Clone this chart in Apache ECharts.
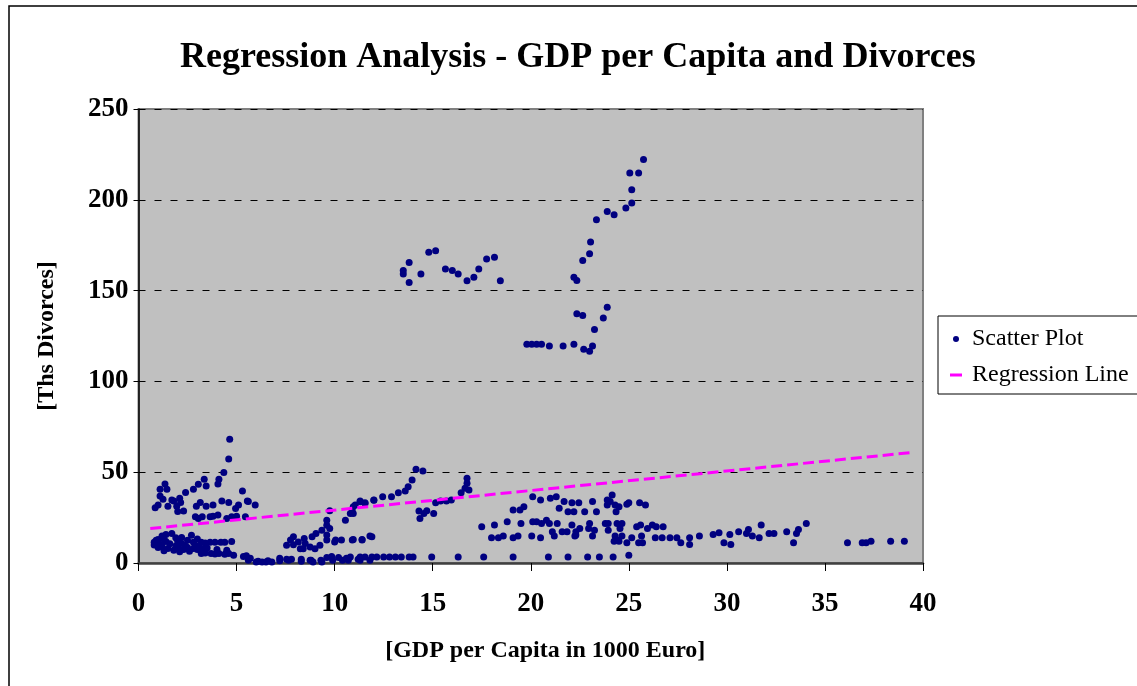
<!DOCTYPE html>
<html>
<head>
<meta charset="utf-8">
<script src="https://cdn.jsdelivr.net/npm/echarts@6/dist/echarts.min.js"></script>
<style>
html,body{margin:0;padding:0;background:#fff;}
#c{width:1137px;height:686px;}
</style>
</head>
<body>
<div id="c"></div>
<script>
// ---- Data (GDP per capita in 1000 EUR, divorces in thousands) ----
const xTicks = [0, 5, 10, 15, 20, 25, 30, 35, 40];
const yTicks = [0, 50, 100, 150, 200, 250];

const lowLeft = [
  [0.8,11.4],[0.8,9.9],[1.0,8.6],[1.3,6.8],[1.2,14.8],[1.4,15.7],[1.7,16.2],[1.9,13.9],[2.0,12.0],[2.2,10.8],
  [2.4,9.3],[2.3,7.5],[2.5,8.5],[2.7,15.3],[3.0,7.5],[1.6,10.6],[1.9,9.3],[1.3,13.0],[1.0,13.0],
  [2.8,11.4],[3.2,11.4],[3.4,11.0],[3.65,11.4],[3.9,11.4],[4.2,11.4],[4.4,11.4],[4.75,11.8],
  [3.2,5.2],[3.4,5.5],[3.7,5.2],[3.9,5.0],[4.1,5.2],[4.4,4.8],[4.6,5.2],[4.85,4.2],
  [1.1,10.2],[1.5,8.0],[1.8,7.0],[2.1,6.2],[2.6,6.5],[2.9,9.8],[3.1,9.0],[3.3,7.8],[2.2,14.0],[2.5,12.5],
  [3.0,13.2],[3.5,8.2],[1.4,11.8],[0.9,12.5],[1.2,9.3],[2.8,8.0],[2.0,8.6],[4.0,7.5],[4.5,7.0]
];
const nearZero = [
  [5.35,3.6],[5.5,4.0],[5.7,2.6],[6.0,0.6],[6.3,0.6],[6.5,0.6],[6.8,0.6],[7.2,2.6],[7.55,2.0],[7.8,2.0],
  [8.3,2.0],[8.75,1.5],[8.9,0.6],[9.35,0.6],[9.6,3.0],[9.85,3.6],[10.2,3.0],[10.6,2.6],[11.2,2.0],
  [5.6,1.5],[6.1,1.0],[6.6,1.2],[7.2,1.2],[7.65,1.5],[8.3,1.0],[8.8,1.5],[9.3,1.5],[9.9,1.5],[10.4,1.5],
  [10.7,1.5],[11.3,1.5],[11.8,1.5],
  [10.8,3.3],[11.3,3.3],[11.55,3.3],[11.9,3.3],[12.15,3.3],[12.5,3.3],[12.8,3.3],[13.1,3.3],[13.4,3.3],
  [13.8,3.3],[14.0,3.3],[14.95,3.3],[16.3,3.3],[17.6,3.3],[19.1,3.3],[20.9,3.3],[21.9,3.3],
  [22.9,3.3],[23.5,3.3],[24.2,3.3],[25.0,4.2]
];
const risingBand = [
  [7.55,9.8],[7.75,12.6],[7.9,14.4],[8.15,11.6],[8.25,7.9],[8.4,7.9],[8.45,13.5],[8.5,10.7],[8.75,8.8],
  [8.85,14.4],[9.05,16.3],[9.0,7.9],[9.25,9.8],[9.35,18.1],[9.6,15.4],[9.6,23.6],[9.75,19.0],[9.6,20.8],
  [9.75,28.8],[9.6,12.6],[10.05,12.6],[10.35,12.6],[10.9,12.6],[11.4,12.6],[11.9,14.4],[10.55,23.6],
  [10.8,27.3],[10.95,31.0],[11.3,33.7],[11.55,32.8],[12.0,34.6],[11.05,31.9],[10.9,28.2],[7.9,10.1],[10.0,11.5]
];
const midBand = [
  [10.95,27.3],[11.3,34.2],[11.55,33.2],[12.0,34.7],[12.45,36.5],[12.9,36.5],[13.25,38.7],[13.6,39.7],
  [13.75,42.0],[13.95,45.7],[14.15,51.6],[14.5,50.7],[14.3,28.6],[14.35,24.5],[14.55,27.3],[14.7,28.8],
  [15.05,27.3],[15.15,33.2],[15.4,34.2],[15.7,34.2],[15.95,34.7],[16.45,38.7],[16.65,41.1],[16.75,43.9],
  [16.75,46.7],[16.85,40.2],[10.95,13.0],[11.4,13.0],[11.8,14.8]
];
const rightBand = [
  [17.5,19.9],[18.15,20.9],[18.8,22.7],[19.1,29.2],[19.45,29.2],[19.65,31.0],[19.5,21.8],[18.0,13.9],
  [18.35,13.9],[18.6,14.8],[19.1,13.9],[19.35,14.8],[20.05,14.8],[20.5,13.9],[20.1,36.5],[20.5,34.7],
  [21.0,35.6],[21.3,36.5],[21.7,33.8],[21.45,30.1],[21.9,28.2],[22.1,33.2],[20.1,22.7],[20.3,22.7],
  [20.8,23.6],[20.55,21.8],[20.95,21.8],[21.35,21.8],[21.1,17.2],[21.2,14.8],[21.6,17.2],[21.85,17.2],
  [22.1,20.9],[22.25,14.8],[22.3,17.2],
  [22.45,33.2],[22.2,28.2],[22.75,28.2],[23.15,33.8],[23.35,28.2],[23.9,34.7],[24.15,37.4],[24.05,33.8],
  [23.9,32.0],[24.3,32.0],[24.5,31.0],[24.35,28.2],[24.9,32.3],[25.0,33.2],[25.55,33.2],[25.85,32.0],
  [22.3,15.4],[22.5,19.0],[23.0,21.8],[22.95,19.0],[23.15,14.8],[23.25,18.1],[23.8,21.8],[23.95,21.8],
  [23.95,18.1],[24.4,21.8],[24.65,21.8],[24.55,19.0],[24.3,14.8],[24.4,12.6],[24.65,14.8],[24.25,12.0],
  [24.5,12.0],[24.9,11.1],[25.15,13.9],[25.4,20.0],[25.6,20.9],[25.65,14.8],[25.5,11.1],[25.7,11.1],
  [25.95,19.0],[26.2,20.9],[26.4,19.9],[26.75,19.9],[26.35,13.9],[26.7,13.9],[27.1,13.9],[27.45,13.9],
  [27.65,11.1],[28.1,13.9],[28.1,10.2],[28.6,14.8],[29.3,15.7],[29.6,16.7],[29.85,11.1],[30.15,15.7],
  [30.2,10.2],[30.6,17.2],[31.0,16.3],[31.1,18.5],[31.3,14.8],[31.65,13.9],[31.75,20.9],[32.15,16.3],
  [32.4,16.3],[33.05,17.2],[33.4,11.1],[33.55,16.3],[33.65,18.5],[34.05,21.8],[36.15,11.1],[36.9,11.1],
  [37.1,11.1],[37.35,12.0],[38.35,12.0],[39.05,12.0]
];
const upperLeft = [
  [4.65,68.2],[4.6,57.2],[4.35,49.8],[4.1,46.1],[4.05,43.5],[3.35,46.1],[3.45,42.4],[3.05,43.3],[2.8,40.6],
  [2.4,38.8],[1.35,43.5],[1.45,40.6],[1.1,40.6],[1.1,36.9],[1.25,35.1],[0.85,30.4],[1.0,31.9],[1.5,31.3],
  [1.8,34.1],[2.1,35.6],[2.15,33.3],[2.0,28.3],[2.3,28.7],[1.95,31.3],[1.7,34.7],[4.25,34.1],[4.6,33.3],
  [5.3,39.7],[5.55,34.1],[5.95,31.9],[5.1,31.9],[4.95,30.0],[3.15,33.3],[3.45,31.3],[3.8,31.9],[2.95,31.3],
  [2.9,25.4],[3.05,24.5],[3.25,25.4],[3.65,25.4],[3.8,25.8],[4.05,26.4],[4.5,24.5],[4.75,25.4],[5.0,25.8],
  [5.45,25.4],[5.6,33.8]
];
const highGroupA = [
  [13.5,161.0],[13.5,159.1],[13.8,165.5],[13.8,154.5],[14.4,159.1],[14.8,171.1],[15.15,172.0],[15.65,161.9],
  [16.0,161.0],[16.3,159.1],[16.75,155.4],[17.1,157.3],[17.35,161.9],[17.75,167.4],[18.15,168.3],[18.45,155.4]
];
const highGroupB = [
  [19.8,120.4],[20.05,120.4],[20.3,120.4],[20.55,120.4],[20.95,119.5],[21.65,119.5],[22.2,120.4],[22.7,117.7],
  [23.0,116.6],[23.15,119.5],[23.25,128.6],[23.7,134.9],[23.9,140.8],[22.35,137.2],[22.65,136.3],[22.2,157.4],
  [22.35,155.6],[22.65,166.6],[23.0,170.3],[23.05,176.7],[23.35,189.0],[23.9,193.6],[24.25,191.8],[24.85,195.5],
  [25.15,198.2],[25.15,205.6],[25.05,214.8],[25.5,214.8],[25.75,222.2]
];
// regression line end points
const regressionX = [0.6, 39.4];
const regressionY = [19.0, 60.8];

const scatterData = [].concat(lowLeft, nearZero, risingBand, midBand, rightBand, upperLeft, highGroupA, highGroupB);
const regressionData = regressionX.map((x, i) => [x, regressionY[i]]);

const FONT = '"Liberation Serif", "Times New Roman", serif';
const chart = echarts.init(document.getElementById('c'), null, {renderer: 'canvas'});
chart.setOption({
  animation: false,
  backgroundColor: '#fff',
  title: {
    text: 'Regression Analysis - GDP per Capita and Divorces',
    left: 175, top: 35,
    textStyle: {fontFamily: FONT, fontWeight: 'bold', fontSize: 36, color: '#000'}
  },
  graphic: [{
    type: 'rect', silent: true, z: 0,
    shape: {x: 9, y: 6, width: 1300, height: 900},
    style: {fill: 'none', stroke: '#000', lineWidth: 1.5}
  }],
  legend: {
    orient: 'vertical', left: 938, top: 316,
    padding: [9, 40, 5, 12],
    itemGap: 8, itemWidth: 12, itemHeight: 6,
    backgroundColor: '#fff', borderColor: '#000', borderWidth: 1, borderRadius: 0,
    textStyle: {fontFamily: FONT, fontSize: 24, color: '#000', lineHeight: 28, padding: [0, 0, 0, 5]},
    data: [
      {name: 'Scatter Plot', icon: 'circle', itemStyle: {color: '#000080', borderWidth: 0}},
      {name: 'Regression Line', icon: 'path://M0,0h12v3h-12z', itemStyle: {color: '#FF00FF', borderWidth: 0}}
    ]
  },
  grid: {
    left: 138.5, top: 109, right: 1137 - 923, bottom: 686 - 563,
    show: true, backgroundColor: '#C0C0C0', borderColor: '#808080', borderWidth: 2
  },
  xAxis: {
    type: 'value', min: 0, max: 40, interval: 5,
    name: '[GDP per Capita in 1000 Euro]', nameLocation: 'middle', nameGap: 76,
    nameTextStyle: {fontFamily: FONT, fontWeight: 'bold', fontSize: 24, color: '#000', padding: [0, 0, 0, 29]},
    axisLine: {show: true, onZero: false, lineStyle: {color: '#404040', width: 2.5}},
    axisTick: {show: true, inside: false, length: 8, lineStyle: {color: '#000', width: 1}},
    axisLabel: {fontFamily: FONT, fontWeight: 'bold', fontSize: 27, color: '#000', margin: 28,
      formatter: v => xTicks.includes(v) ? String(v) : ''},
    splitLine: {show: false}
  },
  yAxis: {
    type: 'value', min: 0, max: 250, interval: 50,
    name: '[Ths Divorces]', nameLocation: 'middle', nameGap: 80, nameRotate: 90,
    nameTextStyle: {fontFamily: FONT, fontWeight: 'bold', fontSize: 24, color: '#000'},
    axisLine: {show: true, onZero: false, lineStyle: {color: '#000', width: 1.5}},
    axisTick: {show: true, inside: false, length: 5, lineStyle: {color: '#000', width: 1}},
    axisLabel: {fontFamily: FONT, fontWeight: 'bold', fontSize: 27, color: '#000', margin: 10,
      formatter: v => yTicks.includes(v) ? String(v) : ''},
    splitLine: {show: true, lineStyle: {color: '#000', width: 1, type: [7, 9]}}
  },
  series: [
    {
      name: 'Scatter Plot', type: 'scatter', data: scatterData,
      symbol: 'circle', symbolSize: 7,
      itemStyle: {color: '#000080', opacity: 1}, z: 3
    },
    {
      name: 'Regression Line', type: 'line', data: regressionData,
      showSymbol: false, symbol: 'none', color: '#FF00FF',
      itemStyle: {color: '#FF00FF'},
      lineStyle: {color: '#FF00FF', width: 3, type: [11, 5]}, z: 4
    }
  ]
});
</script>
</body>
</html>
